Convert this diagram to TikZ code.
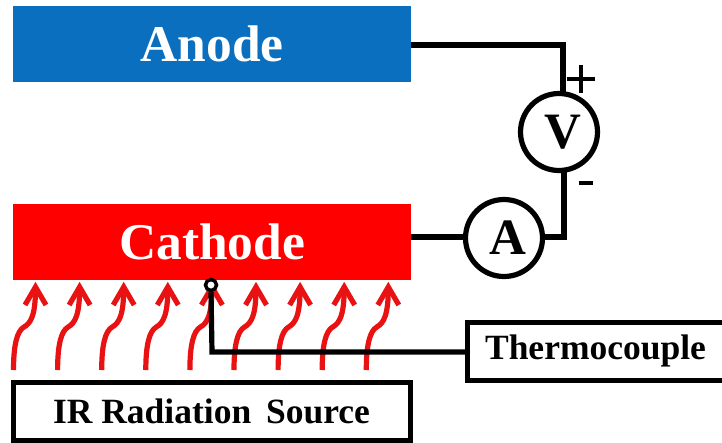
\documentclass[tikz,border=0pt]{standalone}
\usepackage{fontspec}
\setmainfont{Liberation Serif}
\definecolor{anodeblue}{HTML}{0B6FBF}
\definecolor{irred}{HTML}{E81212}
\tikzset{
  x=1pt,y=-1pt,
  plate/.style={minimum width=398pt,minimum height=76pt,inner sep=0pt,text=white,font=\fontsize{51.5}{51.5}\selectfont\bfseries},
  framebox/.style={draw=black,line width=5pt,fill=white,inner sep=0pt,font=\bfseries},
  meter/.style={circle,draw=black,line width=5.2pt,fill=white,minimum size=77pt,inner sep=0pt,font=\fontsize{51}{51}\selectfont\bfseries},
  wire/.style={draw=black,line width=5.2pt,line cap=butt,line join=miter},
  ray/.style={draw=irred,line width=5.2pt,line join=miter},
  sign/.style={draw=black,line width=3.2pt},
}
\begin{document}
\begin{tikzpicture}
\useasboundingbox (0,0) rectangle (722,442);
\fill[white] (0,0) rectangle (722,442);
% arrows
\foreach \i in {0,...,8}{
  \pgfmathsetmacro{\dx}{44.1*\i}
  \begin{scope}[xshift=\dx pt]
    \draw[ray] (13.5,370) .. controls (13.5,345) and (17,331) .. (24,327)
       .. controls (31,323) and (35.5,315) .. (35.5,288);
    \draw[ray] (25,305) -- (35.5,287) -- (46,305);
  \end{scope}
}
\node[plate,fill=anodeblue,anchor=north west] (anode) at (13,6) {\raisebox{-2.5pt}{Anode}};
\node[plate,fill=red,anchor=north west] (cathode) at (13,204) {\raisebox{-2.5pt}{Cathode}};
\node[meter] (V) at (559,132) {\hspace*{8pt}\raisebox{-2.5pt}{V}};
\node[meter] (A) at (504,238) {\hspace*{8pt}\raisebox{-2.5pt}{A}};
\node[framebox,minimum width=397pt,minimum height=58pt,font=\fontsize{35.5}{35.5}\selectfont\bfseries] (ir) at (211.5,411) {\raisebox{-1.5pt}{IR Radiation\, Source}};
\node[framebox,minimum width=258pt,minimum height=58pt,font=\fontsize{35.5}{35.5}\selectfont\bfseries,anchor=west] (tc) at (465,351) {\hspace*{-2pt}\raisebox{-4pt}{Thermocouple}};
\coordinate (ctop) at (563,45);
\coordinate (cbot) at (564,237);
\coordinate (bend) at (212,352);
\draw[wire] (anode.east |- ctop) -- (ctop) -- (563,94);
\draw[wire] (564,171) -- (cbot) -- (A.east |- cbot);
\draw[wire] (cathode.east |- cbot) -- (A.west |- cbot);
\node[circle,draw=black,line width=3.5pt,fill=white,minimum size=11pt,inner sep=0pt] (tip) at (211,285) {};
\draw[wire] (tip.south) -- (bend) -- (tc.west |- bend);
\node[inner sep=0pt,minimum size=1pt] (plus) at (581,79) {};
\draw[sign] (567,79) -- (plus.center) -- (595,79) (581,65) -- (581,93);
\node[inner sep=0pt,minimum size=1pt] (minus) at (586,183) {};
\draw[black,line width=4pt] (579,183) -- (minus.center) -- (593,183);
\end{tikzpicture}
\end{document}
